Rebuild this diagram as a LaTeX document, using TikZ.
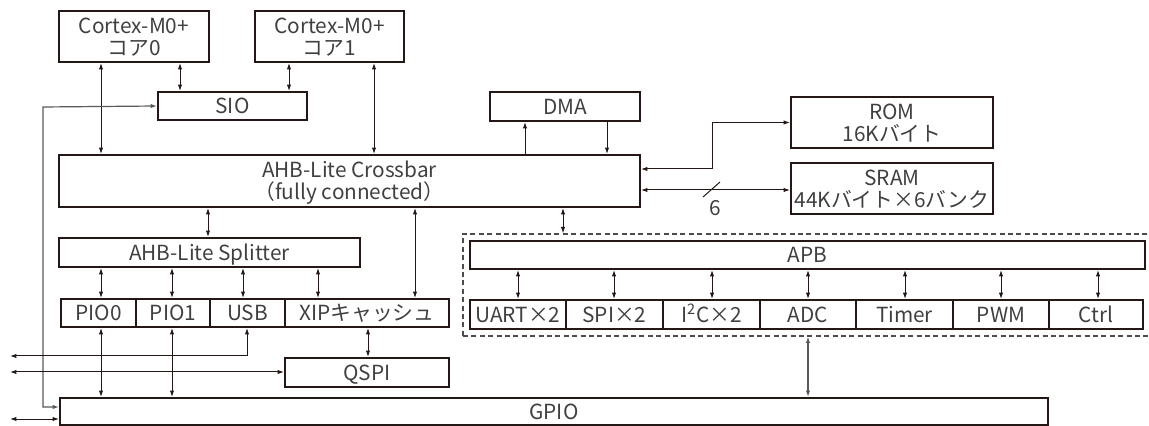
\documentclass[tikz,border=0pt]{standalone}
\usepackage{fontspec}
\setmainfont{Noto Sans CJK JP}
\usetikzlibrary{fit,arrows.meta}
\definecolor{ink}{HTML}{231815}
\tikzset{
  box/.style={draw=ink,line width=1pt,inner sep=0pt},
  grp/.style={draw=black!70,line width=0.6pt,dash pattern=on 2.5pt off 1.7pt,inner sep=0pt},
  con/.style={draw=ink,line width=0.5pt},
  gcon/.style={draw=black!65,line width=0.6pt},
  tip/.tip={Latex[length=3.2pt,width=2.2pt]},
  lbl/.style={font=\fontsize{10.4}{12}\selectfont,text=black!75,inner sep=0pt}
}
% one-line box
\newcommand{\bx}[6]{\node[box,fit={(#2,#3)(#4,#5)}] (#1) {};
  \node[lbl,anchor=base,yshift=-3.8pt] (#1t) at (#1.center) {#6};}
% two-line box
\newcommand{\bxx}[7]{\node[box,fit={(#2,#3)(#4,#5)}] (#1) {};
  \node[lbl,anchor=base,yshift=1.7pt] (#1a) at (#1.center) {#6};
  \node[lbl,anchor=base,yshift=-9.3pt] (#1b) at (#1.center) {#7};}
\begin{document}
\begin{tikzpicture}[x=0.5pt,y=-0.5pt]
\useasboundingbox (0,0) rectangle (1149,426);
% boxes
\bxx{core0}{59}{11}{209}{62}{Cortex-M0+}{コア0}
\bxx{core1}{255}{11}{404}{62}{Cortex-M0+}{コア1}
\bx{sio}{158}{92}{307}{120}{SIO}
\bx{dma}{490}{92}{640}{121}{DMA}
\bxx{xbar}{59}{155}{640}{207}{AHB-Lite Crossbar}{（fully connected）}
\bxx{rom}{791}{97}{993}{148}{ROM}{16Kバイト}
\bxx{sram}{791}{163}{993}{214}{SRAM}{44Kバイト×6バンク}
\bx{split}{59}{238}{360}{267}{AHB-Lite Splitter}
\bx{pio0}{61}{299}{136}{327}{PIO0}
\bx{pio1}{136}{299}{210}{327}{PIO1}
\bx{usb}{210}{299}{285}{327}{USB}
\bx{xip}{285}{299}{449}{327}{XIPキャッシュ}
\bx{qspi}{285}{358}{449}{387}{QSPI}
\node[grp,fit={(463,234)(1170,336)}] (apbgrp) {};
\bx{apb}{470}{241}{1145}{269}{APB}
\bx{uart}{470}{300}{566}{329}{UART×2}
\bx{spi}{566}{300}{663}{329}{SPI×2}
\bx{i2c}{663}{300}{760}{329}{I\textsuperscript{2}C×2}
\bx{adc}{760}{300}{856}{329}{ADC}
\bx{timer}{856}{300}{953}{329}{Timer}
\bx{pwm}{953}{300}{1049}{329}{PWM}
\bx{ctrl}{1049}{300}{1143}{329}{Ctrl}
\bx{gpio}{60}{398}{1048}{425}{GPIO}
% free ends
\coordinate (fb) at (43,107);
\coordinate (romk) at (712,169);
\coordinate (usbk) at (247,356);
\coordinate (ext1) at (10,356);
\coordinate (ext2) at (10,372);
\coordinate (ext3) at (10,419);
\coordinate (sl1) at (703,197);
\coordinate (sl2) at (720,182);
% connectors
\draw[con,tip-tip] (core0.south -| 101,0) -- (xbar.north -| 101,0);
\draw[con,tip-tip] (core0.south -| 180,0) -- (sio.north -| 180,0);
\draw[con,tip-tip] (core1.south -| 289,0) -- (sio.north -| 289,0);
\draw[con,tip-tip] (core1.south -| 374,0) -- (xbar.north -| 374,0);
\draw[gcon,tip-tip] (sio.west) -- (fb) -- (fb |- 0,407) -- (gpio.west |- 0,407);
\draw[con,-tip] (xbar.north -| 525,0) -- (dma.south -| 525,0);
\draw[con,-tip] (dma.south -| 607,0) -- (xbar.north -| 607,0);
\draw[con,tip-tip] (xbar.east |- romk) -- (romk) |- (rom.west);
\draw[con,tip-tip] (xbar.east |- 0,190) -- (sram.west |- 0,190);
\draw[con] (sl1) -- (sl2);
\node[lbl] (six) at (715,208) {6};
\draw[con,tip-tip] (xbar.south -| 208,0) -- (split.north -| 208,0);
\draw[con,tip-tip] (xbar.south -| 415,0) -- (xip.north -| 415,0);
\draw[con,tip-tip] (xbar.south -| 563,0) -- (apbgrp.north -| 563,0);
\foreach \x/\n in {101/pio0,172/pio1,243/usb,318/xip}
  \draw[con,tip-tip] (split.south -| \x,0) -- (\n.north -| \x,0);
\draw[con,tip-tip] (xip.south -| 368,0) -- (qspi.north -| 368,0);
\draw[con,tip-tip] (usb.south -| usbk) -- (usbk) -- (ext1);
\draw[con,tip-tip] (ext2) -- (qspi.west |- ext2);
\draw[con,tip-tip] (pio0.south -| 101,0) -- (gpio.north -| 101,0);
\draw[con,tip-tip] (pio1.south -| 172,0) -- (gpio.north -| 172,0);
\draw[con,tip-tip] (ext3) -- (gpio.west |- ext3);
\foreach \x/\n in {518/uart,614/spi,712/i2c,808/adc,905/timer,1001/pwm,1098/ctrl}
  \draw[con,tip-tip] (apb.south -| \x,0) -- (\n.north -| \x,0);
\draw[gcon,tip-tip] (apbgrp.south -| 808,0) -- (gpio.north -| 808,0);
\end{tikzpicture}
\end{document}
